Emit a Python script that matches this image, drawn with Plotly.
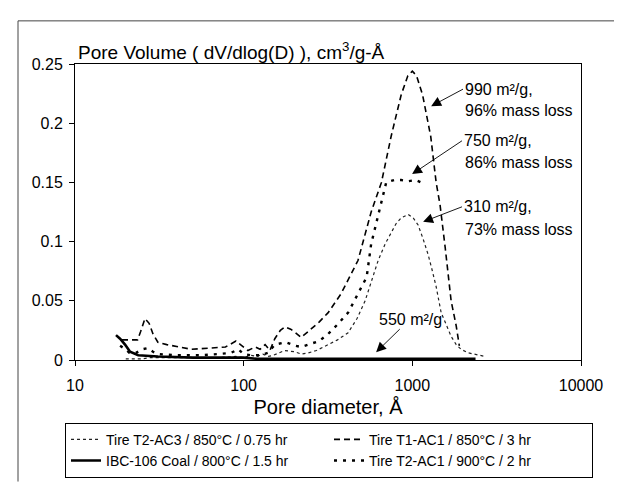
import plotly.graph_objects as go
import math

# ---- data (pore diameter in Å, pore volume dV/dlog(D) in cm3/g-Å) ----
d_t2ac3 = [20, 25, 28, 35, 50, 70, 90, 100, 110, 120, 130, 140, 150, 175, 200, 220, 241, 270, 317, 360,
           416, 470, 525, 580, 627, 690, 749, 800, 859, 945, 1012, 1082, 1160, 1241, 1310, 1384, 1482,
           1580, 1698, 1820, 1946, 2150, 2355, 2702]
v_t2ac3 = [0.001, 0.001, 0.002, 0.002, 0.002, 0.002, 0.003, 0.002, 0.004, 0.003, 0.005, 0.003, 0.004,
           0.008, 0.007, 0.005, 0.006, 0.008, 0.013, 0.017, 0.023, 0.035, 0.050, 0.068, 0.084, 0.098,
           0.108, 0.115, 0.120, 0.123, 0.120, 0.114, 0.102, 0.089, 0.076, 0.062, 0.040, 0.030, 0.020,
           0.013, 0.009, 0.006, 0.005, 0.003]

d_t1ac1 = [19, 23.5, 24.5, 26, 27.5, 29, 31, 35, 49, 65, 78, 90, 99, 106, 117, 125, 134, 143, 153, 165,
           176, 190, 203, 219, 241, 280, 317, 378, 476, 570, 656, 749, 859, 940, 1000, 1060, 1150, 1285,
           1384, 1460, 1566, 1698, 1819, 1900]
v_t1ac1 = [0.017, 0.017, 0.024, 0.035, 0.031, 0.022, 0.015, 0.013, 0.009, 0.010, 0.011, 0.016, 0.011,
           0.008, 0.011, 0.009, 0.013, 0.008, 0.018, 0.025, 0.028, 0.026, 0.023, 0.019, 0.024, 0.032,
           0.040, 0.056, 0.084, 0.125, 0.150, 0.189, 0.224, 0.240, 0.244, 0.240, 0.224, 0.189, 0.150,
           0.131, 0.095, 0.050, 0.029, 0.012]

d_ibc = [17.5, 18.5, 19.8, 21.2, 23.7, 31, 50, 80, 100, 120, 200, 400, 1000, 2370]
v_ibc = [0.021, 0.018, 0.013, 0.007, 0.004, 0.003, 0.002, 0.002, 0.002, 0.001, 0.001, 0.001, 0.001, 0.001]

d_t2ac1 = [18.5, 20, 21, 23, 25, 27, 29, 31, 40, 55, 70, 84, 93, 100, 110, 125, 139, 153, 178, 203, 219,
           241, 280, 317, 360, 416, 470, 536, 570, 645, 700, 780, 859, 950, 1050, 1128]
v_t2ac1 = [0.012, 0.009, 0.006, 0.006, 0.009, 0.010, 0.007, 0.005, 0.004, 0.004, 0.005, 0.006, 0.009,
           0.005, 0.004, 0.004, 0.006, 0.013, 0.015, 0.012, 0.011, 0.013, 0.016, 0.022, 0.030, 0.040,
           0.055, 0.070, 0.098, 0.128, 0.150, 0.152, 0.152, 0.151, 0.152, 0.150]

series_names = ["Tire T2-AC3 / 850°C / 0.75 hr", "Tire T1-AC1 / 850°C / 3 hr",
                "IBC-106 Coal / 800°C / 1.5 hr", "Tire T2-AC1 / 900°C / 2 hr"]

x_tickvals = [10, 100, 1000, 10000]
x_ticktext = ["10", "100", "1000", "10000"]
y_tickvals = [0, 0.05, 0.1, 0.15, 0.2, 0.25]
y_ticktext = ["0", "0.05", "0.1", "0.15", "0.2", "0.25"]

# annotation labels: (text lines, arrow tip D, arrow tip V)
ann_labels = [
    (["990 m²/g,", "96% mass loss"], 1293, 0.2144),
    (["750 m²/g,", "86% mass loss"], 997, 0.157),
    (["310 m²/g,", "73% mass loss"], 1159, 0.1167),
    (["550 m²/g"], 610, 0.0066),
]

FONT = "Liberation Sans, Arial, sans-serif"

fig = go.Figure()
fig.add_trace(go.Scatter(x=d_t2ac3, y=v_t2ac3, mode="lines", name=series_names[0],
                         line=dict(color="#222", width=1.2, dash="dot")))
fig.add_trace(go.Scatter(x=d_t1ac1, y=v_t1ac1, mode="lines", name=series_names[1],
                         line=dict(color="#000", width=1.6, dash="6px,4px")))
fig.add_trace(go.Scatter(x=d_ibc, y=v_ibc, mode="lines", name=series_names[2],
                         line=dict(color="#000", width=2.6)))
fig.add_trace(go.Scatter(x=d_t2ac1, y=v_t2ac1, mode="lines", name=series_names[3],
                         line=dict(color="#000", width=2.4, dash="3px,6px")))

# plot area geometry (pixels) used to place paper-coordinate decorations
L, R, T, B = 67, 573, 56, 358
W, H = 622, 482
pw, ph = R - L, B - T

def px(xp):
    return (xp - L) / pw

def py(yp):
    return (B - yp) / ph

annotations = []

# text positions (pixels): first line carries the arrow; (x, y, xanchor)
text_pos = [[(455, 82, "left"), (455, 103, "left")],
            [(454, 135, "left"), (455, 157, "left")],
            [(454, 202, "left"), (455, 225, "left")],
            [(402, 317, "center")]]
for (lines, td, tv), tp in zip(ann_labels, text_pos):
    tipx = L + (math.log10(td) - 1) / 3 * pw
    tipy = B - tv / 0.25 * ph
    for i, (line, (xx, yy, xa)) in enumerate(zip(lines, tp)):
        if i == 0:
            annotations.append(dict(text=line, x=math.log10(td), y=tv, xref="x", yref="y",
                                    ax=xx - tipx, ay=yy - tipy, axref="pixel", ayref="pixel",
                                    xanchor=xa, yanchor="middle", showarrow=True,
                                    arrowhead=2, arrowsize=2.2, arrowwidth=0.9, arrowcolor="#000",
                                    font=dict(size=16, color="#000", family=FONT)))
        else:
            annotations.append(dict(text=line, xref="paper", yref="paper", x=px(xx), y=py(yy),
                                    xanchor=xa, yanchor="middle", showarrow=False,
                                    font=dict(size=16, color="#000", family=FONT)))

shapes = [
    dict(type="line", xref="paper", yref="paper", x0=px(10), x1=px(10), y0=py(12), y1=py(482),
         line=dict(color="#444", width=1)),
    dict(type="line", xref="paper", yref="paper", x0=px(10), x1=px(620), y0=py(12), y1=py(12),
         line=dict(color="#444", width=1)),
]

fig.update_layout(
    width=W, height=H,
    margin=dict(l=L, r=W - R, t=T, b=H - B, pad=0),
    paper_bgcolor="white", plot_bgcolor="white",
    font=dict(family=FONT, color="#000", size=16),
    title=dict(text="Pore Volume ( dV/dlog(D) ), cm<sup>3</sup>/g-Å", xref="paper", x=px(70),
               xanchor="left", yref="container", y=1 - 44 / H, yanchor="middle",
               font=dict(size=19, color="#000", family=FONT)),
    showlegend=True,
    legend=dict(orientation="h", x=px(57), y=py(422), xanchor="left", yanchor="top",
                bordercolor="#000", borderwidth=1, bgcolor="white",
                font=dict(size=14, family=FONT, color="#000"),
                entrywidth=218, entrywidthmode="pixels", tracegroupgap=0, itemwidth=30),
    xaxis=dict(type="log", range=[1, 4], tickvals=x_tickvals, ticktext=x_ticktext,
               ticks="outside", ticklen=5, tickcolor="#000", showline=True, linecolor="#000",
               linewidth=1, mirror=True, showgrid=False, zeroline=False,
               tickfont=dict(size=16), ticklabelstandoff=6,
               title=dict(text="Pore diameter, Å", font=dict(size=20, color="#000", family=FONT),
                          standoff=6)),
    yaxis=dict(range=[0, 0.25], tickvals=y_tickvals, ticktext=y_ticktext,
               ticks="outside", ticklen=5, tickcolor="#000", showline=True, linecolor="#000",
               linewidth=1, mirror=True, showgrid=False, zeroline=False,
               tickfont=dict(size=16), ticklabelstandoff=3),
    annotations=annotations,
    shapes=shapes,
)

fig.write_html("out.html")
